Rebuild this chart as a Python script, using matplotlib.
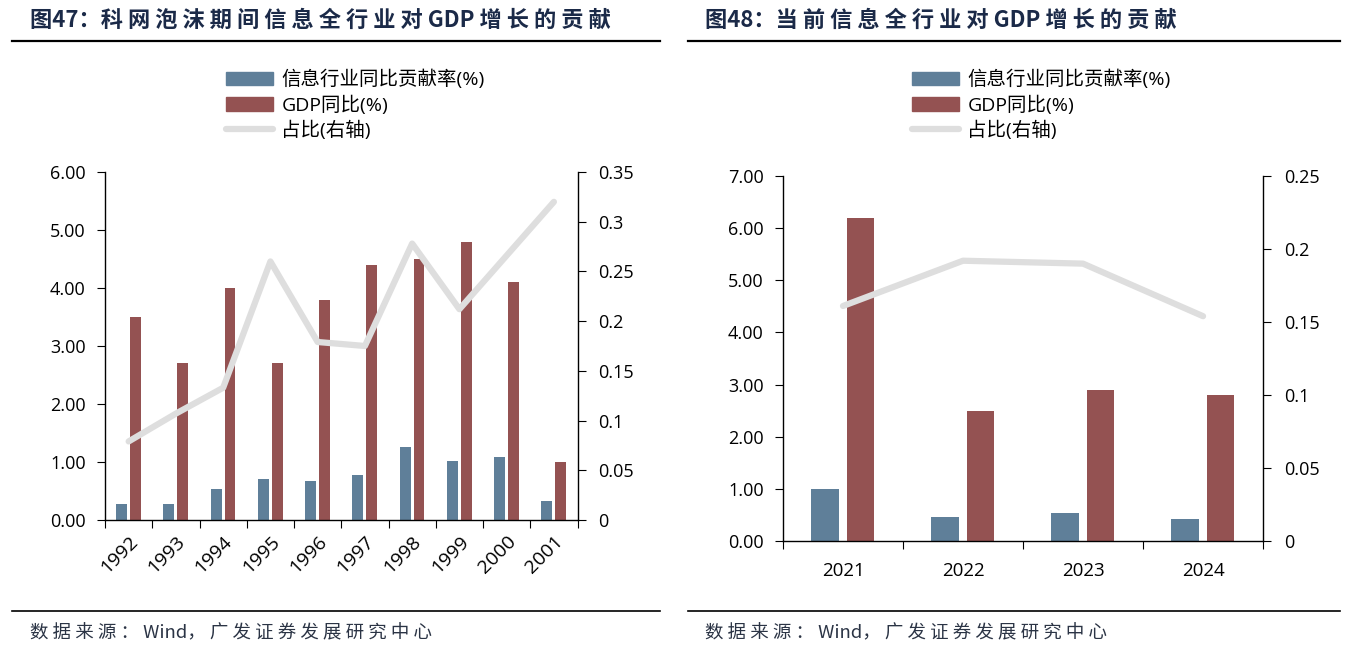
import matplotlib.pyplot as plt
import matplotlib.lines as mlines
import matplotlib.patches as mpatches
import numpy as np

plt.rcParams['font.family'] = ['Open Sans', 'Noto Sans CJK SC', 'DejaVu Sans']

# data
years1 = ['1992', '1993', '1994', '1995', '1996', '1997', '1998', '1999', '2000', '2001']
info1 = [0.27, 0.28, 0.53, 0.70, 0.68, 0.77, 1.25, 1.02, 1.09, 0.32]
gdp1 = [3.5, 2.7, 4.0, 2.7, 3.8, 4.4, 4.5, 4.8, 4.1, 1.0]
share1 = [0.079, 0.107, 0.133, 0.260, 0.179, 0.175, 0.278, 0.212, 0.266, 0.320]

years2 = ['2021', '2022', '2023', '2024']
info2 = [1.0, 0.47, 0.54, 0.42]
gdp2 = [6.2, 2.5, 2.9, 2.8]
share2 = [0.161, 0.192, 0.190, 0.154]

labels = ['信息行业同比贡献率(%)', 'GDP同比(%)', '占比(右轴)']
blue = '#5f7f99'
red = '#945252'
grey = '#dedede'
navy = '#1b2a48'

fig = plt.figure(figsize=(13.5, 6.52), dpi=100)


def panel(rect, cats, info, gdp, share, ymax, ystep, rmax, rstep, rot):
    ax = fig.add_axes(rect)
    x = np.arange(len(cats))
    w = 0.23
    ax.bar(x - 0.15, info, w, color=blue, zorder=2)
    ax.bar(x + 0.145, gdp, w, color=red, zorder=2)
    ax.set_xlim(-0.5, len(cats) - 0.5)
    ax.set_ylim(0, ymax)
    yt = np.arange(0, ymax + 1e-9, ystep)
    ax.set_yticks(yt)
    ax.set_yticklabels(['%.2f' % v for v in yt], fontsize=13)
    ax.set_xticks(np.arange(-0.5, len(cats), 1.0))
    ax.set_xticklabels([])
    ax.set_xticks(x, minor=True)
    if rot:
        ax.set_xticklabels(cats, minor=True, fontsize=14, rotation=45,
                           ha='right', va='top', rotation_mode='anchor')
        ax.tick_params(axis='x', which='minor', length=0, pad=9)
    else:
        ax.set_xticklabels(cats, minor=True, fontsize=13.5)
        ax.tick_params(axis='x', which='minor', length=0, pad=15)
    ax.tick_params(axis='x', which='major', length=6, direction='out')
    ax.tick_params(axis='y', length=6, pad=8)
    ax.spines['top'].set_visible(False)
    ax.spines['right'].set_visible(False)
    for s in ['left', 'bottom']:
        ax.spines[s].set_linewidth(1.0)

    ax2 = ax.twinx()
    ax2.plot(x, share, color=grey, lw=4.5, solid_capstyle='round', zorder=3)
    ax2.set_ylim(0, rmax)
    rt = np.arange(0, rmax + 1e-9, rstep)
    ax2.set_yticks(rt)
    ax2.set_yticklabels(['%g' % round(v, 2) for v in rt], fontsize=13)
    ax2.tick_params(axis='y', length=6, pad=9)
    for s in ['top', 'left', 'bottom']:
        ax2.spines[s].set_visible(False)
    ax2.spines['right'].set_linewidth(1.0)
    return ax


panel([0.0778, 0.2025, 0.350, 0.5337], years1, info1, gdp1, share1,
      6, 1, 0.35, 0.05, True)
panel([0.580, 0.1702, 0.3556, 0.5598], years2, info2, gdp2, share2,
      7, 1, 0.25, 0.05, False)

handles = [mpatches.Patch(color=blue), mpatches.Patch(color=red),
           mlines.Line2D([], [], color=grey, lw=4.5, solid_capstyle='round')]
for xpos in [226 / 1350, 912 / 1350]:
    fig.legend(handles, labels, loc='upper left', bbox_to_anchor=(xpos, 1 - 70 / 652),
               frameon=False, fontsize=14, handlelength=2.4, handleheight=0.7,
               handletextpad=0.45, labelspacing=0.3, borderpad=0, borderaxespad=0)


def spaced(s):
    return ' '.join(s)


title1 = '图47：' + spaced('科网泡沫期间信息全行业对') + ' GDP ' + spaced('增长的贡献')
title2 = '图48：' + spaced('当前信息全行业对') + ' GDP ' + spaced('增长的贡献')
source = spaced('数据来源：') + ' Wind， ' + spaced('广发证券发展研究中心')

# titles, rules and sources
for xt, t in [(30, title1), (705, title2)]:
    fig.text(xt / 1350, 1 - 20 / 652, t, fontsize=16, fontweight='bold',
             color=navy, va='center', family=['Noto Sans CJK SC', 'DejaVu Sans'])
    fig.text(xt / 1350, 1 - 633 / 652, source, fontsize=13.3, color='#2b3445',
             va='center', family=['Noto Sans CJK SC', 'DejaVu Sans'])
for x0, x1 in [(12, 660), (688, 1340)]:
    fig.add_artist(mlines.Line2D([x0 / 1350, x1 / 1350], [1 - 41 / 652] * 2,
                                 color='black', lw=1.6))
    fig.add_artist(mlines.Line2D([x0 / 1350, x1 / 1350], [1 - 611 / 652] * 2,
                                 color='black', lw=1.2))

plt.savefig('out.png', dpi=100)
